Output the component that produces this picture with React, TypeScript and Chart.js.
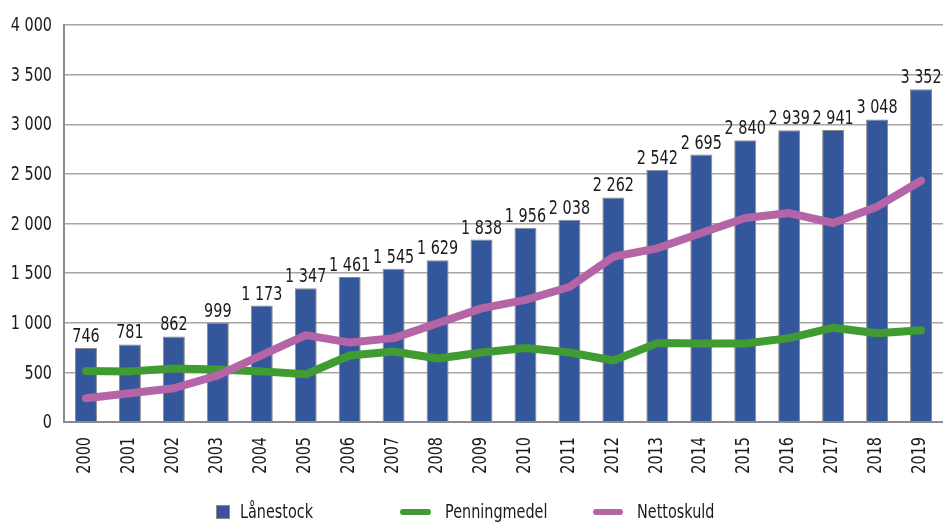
import React, { useEffect, useRef } from "react";
import { Chart, registerables } from "chart.js";

Chart.register(...registerables);

const years = ["2000","2001","2002","2003","2004","2005","2006","2007","2008","2009","2010","2011","2012","2013","2014","2015","2016","2017","2018","2019"];
const lanestock = [746,781,862,999,1173,1347,1461,1545,1629,1838,1956,2038,2262,2542,2695,2840,2939,2941,3048,3352];
const penningmedel = [515,510,540,530,510,480,670,710,640,700,745,700,620,795,790,790,845,950,895,925];
const nettoskuld = [240,290,340,470,675,875,800,845,995,1145,1230,1360,1665,1750,1905,2055,2105,2005,2170,2430];
const yTicks = [0,500,1000,1500,2000,2500,3000,3500,4000];
const legendLabels = ["Lånestock", "Penningmedel", "Nettoskuld"];

const FAMILY = "'DejaVu Sans', sans-serif";
const FONT = `20px ${FAMILY}`;
const SX = 0.72;
const TEXT = "#1a1a1a";
const BAR = "#34579b";
const GREEN = "#3f9b32";
const PURPLE = "#b565a7";

const fmt = (v: number) => String(v).replace(/\B(?=(\d{3})+(?!\d))/g, " ");

function narrowText(ctx: any, text: string, x: number, y: number, align: string, baseline: string, rot = 0) {
  ctx.save();
  ctx.translate(x, y);
  if (rot) ctx.rotate(rot);
  ctx.scale(SX, 1);
  ctx.font = FONT;
  ctx.fillStyle = TEXT;
  ctx.textAlign = align;
  ctx.textBaseline = baseline;
  ctx.fillText(text, 0, 0);
  ctx.restore();
}

const axisText = {
  id: "axisText",
  afterDraw(chart: any) {
    const ctx = chart.ctx;
    const ys = chart.scales.y;
    const xs = chart.scales.x;
    const area = chart.chartArea;
    yTicks.forEach((v) => {
      narrowText(ctx, fmt(v), area.left - 12, ys.getPixelForValue(v) + 1, "right", "middle");
    });
    years.forEach((lab, i) => {
      narrowText(ctx, lab, xs.getPixelForValue(i) - 1, area.bottom + 15, "right", "middle", -Math.PI / 2);
    });
  },
};

const barLabels = {
  id: "barLabels",
  afterDatasetsDraw(chart: any) {
    const ctx = chart.ctx;
    const meta = chart.getDatasetMeta(0);
    meta.data.forEach((el: any, i: number) => {
      narrowText(ctx, fmt(lanestock[i]), el.x, el.y - 6, "center", "alphabetic");
    });
  },
};

const customLegend = {
  id: "customLegend",
  afterDraw(chart: any) {
    const ctx = chart.ctx;
    const y = 512;
    ctx.save();
    ctx.fillStyle = BAR;
    ctx.fillRect(216, y - 7, 14, 14);
    ctx.strokeStyle = "#8a8a8a";
    ctx.lineWidth = 1;
    ctx.strokeRect(216.5, y - 6.5, 13, 13);
    ctx.lineCap = "round";
    ctx.lineWidth = 6;
    ctx.strokeStyle = GREEN;
    ctx.beginPath();
    ctx.moveTo(403, y);
    ctx.lineTo(428, y);
    ctx.stroke();
    ctx.strokeStyle = PURPLE;
    ctx.beginPath();
    ctx.moveTo(596, y);
    ctx.lineTo(620, y);
    ctx.stroke();
    ctx.restore();
    narrowText(ctx, legendLabels[0], 240, y + 1, "left", "middle");
    narrowText(ctx, legendLabels[1], 445, y + 1, "left", "middle");
    narrowText(ctx, legendLabels[2], 637, y + 1, "left", "middle");
  },
};

export default function App() {
  const ref = useRef<HTMLCanvasElement>(null);
  useEffect(() => {
    document.body.style.margin = "0";
    const chart = new Chart(ref.current!, {
      type: "bar",
      data: {
        labels: years,
        datasets: [
          {
            type: "bar",
            label: legendLabels[0],
            data: lanestock,
            backgroundColor: BAR,
            borderColor: "#8a8a8a",
            borderWidth: 1,
            barPercentage: 0.5,
            categoryPercentage: 1,
            order: 3,
          },
          {
            type: "line",
            label: legendLabels[1],
            data: penningmedel,
            borderColor: GREEN,
            borderWidth: 8,
            pointRadius: 0,
            borderCapStyle: "round",
            borderJoinStyle: "round",
            tension: 0,
            order: 2,
          } as any,
          {
            type: "line",
            label: legendLabels[2],
            data: nettoskuld,
            borderColor: PURPLE,
            borderWidth: 8,
            pointRadius: 0,
            borderCapStyle: "round",
            borderJoinStyle: "round",
            tension: 0,
            order: 1,
          } as any,
        ],
      },
      options: {
        responsive: false,
        animation: false,
        layout: { padding: { top: 25, bottom: 100, left: 64, right: 0 } },
        plugins: { legend: { display: false }, tooltip: { enabled: false } },
        scales: {
          x: {
            grid: { display: false, drawTicks: false },
            border: { display: true, color: "#8c8c8c", width: 2 },
            ticks: { display: false },
          },
          y: {
            min: 0,
            max: 4000,
            afterBuildTicks: (axis: any) => {
              axis.ticks = yTicks.map((v) => ({ value: v }));
            },
            grid: { color: "#a6a6a6", lineWidth: 1.5, drawTicks: false },
            border: { display: true, color: "#8c8c8c", width: 2 },
            ticks: { display: false },
          },
        },
      },
      plugins: [barLabels, axisText, customLegend],
    });
    return () => chart.destroy();
  }, []);
  return <canvas ref={ref} width={943} height={522} />;
}
